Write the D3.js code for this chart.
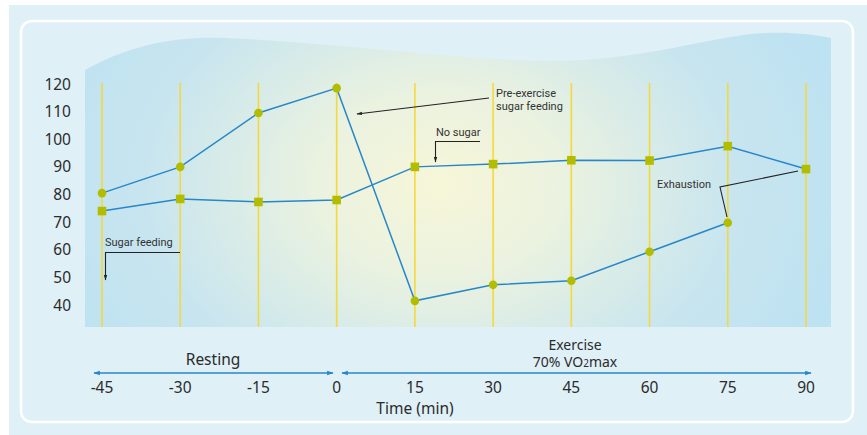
<!DOCTYPE html>
<html><head><meta charset="utf-8">
<script src="https://cdn.jsdelivr.net/npm/d3@7"></script>
<style>
html,body{margin:0;padding:0;background:#fff;}
svg{display:block;}
</style></head>
<body>
<svg id="chart" width="867" height="435"></svg>
<script>
// ---- data ----
const timePoints = [-45, -30, -15, 0, 15, 30, 45, 60, 75, 90];
const tickLabels = ["-45", "-30", "-15", "0", "15", "30", "45", "60", "75", "90"];
const yTicks = [40, 50, 60, 70, 80, 90, 100, 110, 120];
const sugarTimes = [-45, -30, -15, 0, 15, 30, 45, 60, 75];
const sugarValues = [80.5, 90, 109.5, 118.5, 41.5, 47.3, 48.8, 59.3, 69.8];
const noSugarTimes = [-45, -30, -15, 0, 15, 30, 45, 60, 75, 90];
const noSugarValues = [74, 78.4, 77.3, 78, 90, 91, 92.4, 92.3, 97.5, 89.2];

const svg = d3.select("#chart");
const W = 867, H = 435;
const x = d3.scaleLinear().domain([-45, 90]).range([102, 806]);
const y = d3.scaleLinear().domain([40, 120]).range([305, 84]);

const defs = svg.append("defs");
const grad = defs.append("radialGradient").attr("id", "bgGrad")
  .attr("gradientUnits", "userSpaceOnUse")
  .attr("cx", 440).attr("cy", 185).attr("r", 420)
  .attr("gradientTransform", "translate(440,185) scale(1,0.75) translate(-440,-185)");
grad.append("stop").attr("offset", 0).attr("stop-color", "#f7f6d8");
grad.append("stop").attr("offset", 0.3).attr("stop-color", "#eaf2e0");
grad.append("stop").attr("offset", 0.7).attr("stop-color", "#c8e5ef");
grad.append("stop").attr("offset", 1).attr("stop-color", "#bde2f2");

defs.append("marker").attr("id", "blueArr")
  .attr("viewBox", "0 0 10 10").attr("refX", 9).attr("refY", 5)
  .attr("markerWidth", 5).attr("markerHeight", 5)
  .attr("orient", "auto-start-reverse")
  .append("path").attr("d", "M0,1.5 L10,5 L0,8.5 Z").attr("fill", "#2787c9");
defs.append("marker").attr("id", "blkArr")
  .attr("viewBox", "0 0 10 10").attr("refX", 9).attr("refY", 5)
  .attr("markerWidth", 5).attr("markerHeight", 5)
  .attr("orient", "auto-start-reverse")
  .append("path").attr("d", "M0,2 L10,5 L0,8 Z").attr("fill", "#222");

// backgrounds
svg.append("rect").attr("x", 9).attr("y", 5).attr("width", W - 9).attr("height", H - 5).attr("fill", "#dff0f7");
svg.append("rect").attr("x", 21).attr("y", 21).attr("width", 832).attr("height", 401)
  .attr("rx", 11).attr("fill", "#dff0f7").attr("stroke", "#ffffff").attr("stroke-width", 2.5);

// plot area with wavy top
svg.append("path")
  .attr("d", "M85,70 C130,45 175,36 225,38 C330,42 460,60 545,61 C640,62 710,36 765,33 C795,32 815,35 831,38 L831,327 L85,327 Z")
  .attr("fill", "url(#bgGrad)");

// yellow vertical lines
svg.append("g").selectAll("line").data(timePoints).join("line")
  .attr("x1", d => x(d)).attr("x2", d => x(d))
  .attr("y1", 83).attr("y2", 327)
  .attr("stroke", "#f4d93c").attr("stroke-width", 1.6);

// y axis labels
const fontMain = "'Noto Sans', 'Open Sans', sans-serif";
svg.append("g").selectAll("text").data(yTicks).join("text")
  .attr("x", 71).attr("y", d => y(d) + 5.5)
  .attr("text-anchor", "end")
  .attr("font-family", fontMain).attr("font-size", 15.5).attr("fill", "#2b2b2b")
  .text(d => d);

// lines
const line = d3.line().x(d => x(d[0])).y(d => y(d[1]));
const sugarData = sugarTimes.map((t, i) => [t, sugarValues[i]]);
const noSugarData = noSugarTimes.map((t, i) => [t, noSugarValues[i]]);
svg.append("path").datum(sugarData).attr("d", line)
  .attr("fill", "none").attr("stroke", "#2787c9").attr("stroke-width", 1.5);
svg.append("path").datum(noSugarData).attr("d", line)
  .attr("fill", "none").attr("stroke", "#2787c9").attr("stroke-width", 1.5);

// markers
const markColor = "#b3bd00";
svg.append("g").selectAll("circle").data(sugarData).join("circle")
  .attr("cx", d => x(d[0])).attr("cy", d => y(d[1])).attr("r", 4.3)
  .attr("fill", markColor);
svg.append("g").selectAll("rect").data(noSugarData).join("rect")
  .attr("x", d => x(d[0]) - 4.3).attr("y", d => y(d[1]) - 4.3)
  .attr("width", 8.6).attr("height", 8.6).attr("fill", markColor);

// annotations
const fontAnn = "Roboto, 'Liberation Sans', sans-serif";
function annText(tx, ty, str) {
  svg.append("text").attr("x", tx).attr("y", ty)
    .attr("font-family", fontAnn).attr("font-size", 11).attr("fill", "#333")
    .text(str);
}
annText(496, 97, "Pre-exercise");
annText(496, 110, "sugar feeding");
svg.append("path").attr("d", "M489,98 L357,114")
  .attr("fill", "none").attr("stroke", "#222").attr("stroke-width", 1.1).attr("marker-end", "url(#blkArr)");

annText(436, 136, "No sugar");
svg.append("path").attr("d", "M480,141.5 L435.5,141.5 L435.5,162")
  .attr("fill", "none").attr("stroke", "#222").attr("stroke-width", 1.1).attr("marker-end", "url(#blkArr)");

annText(105, 246, "Sugar feeding");
svg.append("path").attr("d", "M180,252.5 L105.5,252.5 L105.5,280")
  .attr("fill", "none").attr("stroke", "#222").attr("stroke-width", 1.1).attr("marker-end", "url(#blkArr)");

annText(657, 188, "Exhaustion");
svg.append("path").attr("d", "M798,171 L720,187 L727,217")
  .attr("fill", "none").attr("stroke", "#222").attr("stroke-width", 1.1);

// phase arrows
svg.append("line").attr("x1", 94).attr("x2", 333).attr("y1", 373).attr("y2", 373)
  .attr("stroke", "#2787c9").attr("stroke-width", 1.3)
  .attr("marker-start", "url(#blueArr)").attr("marker-end", "url(#blueArr)");
svg.append("line").attr("x1", 342).attr("x2", 811).attr("y1", 373).attr("y2", 373)
  .attr("stroke", "#2787c9").attr("stroke-width", 1.3)
  .attr("marker-start", "url(#blueArr)").attr("marker-end", "url(#blueArr)");

svg.append("text").attr("x", 213).attr("y", 365).attr("text-anchor", "middle")
  .attr("font-family", fontMain).attr("font-size", 15.5).attr("fill", "#2b2b2b").text("Resting");
svg.append("text").attr("x", 575).attr("y", 349.5).attr("text-anchor", "middle")
  .attr("font-family", fontMain).attr("font-size", 14).attr("fill", "#2b2b2b").text("Exercise");
const vo = svg.append("text").attr("x", 575).attr("y", 367).attr("text-anchor", "middle")
  .attr("font-family", fontMain).attr("font-size", 14).attr("fill", "#2b2b2b");
vo.append("tspan").text("70% VO");
vo.append("tspan").attr("font-size", 10).text("2");
vo.append("tspan").text("max");

// x tick labels
svg.append("g").selectAll("text").data(timePoints).join("text")
  .attr("x", d => x(d)).attr("y", 393).attr("text-anchor", "middle")
  .attr("font-family", fontMain).attr("font-size", 15.5).attr("fill", "#2b2b2b")
  .text((d, i) => tickLabels[i]);

svg.append("text").attr("x", 415).attr("y", 414).attr("text-anchor", "middle")
  .attr("font-family", fontMain).attr("font-size", 15.5).attr("fill", "#2b2b2b").text("Time (min)");
</script>
</body></html>
